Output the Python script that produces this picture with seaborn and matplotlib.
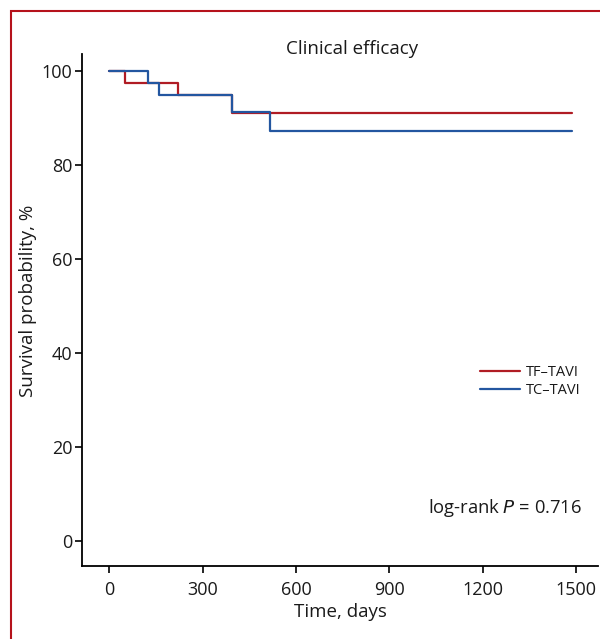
import matplotlib
matplotlib.use("Agg")
import matplotlib.pyplot as plt
import seaborn as sns
import pandas as pd
from matplotlib.patches import Rectangle
from matplotlib.lines import Line2D

# Data (Kaplan-Meier step points)
tf_time = [0, 51, 222, 395, 1485]
tf_surv = [100, 97.5, 94.9, 91.0, 91.0]
tc_time = [0, 124, 160, 395, 517, 1485]
tc_surv = [100, 97.5, 94.9, 91.3, 87.3, 87.3]
groups = ["TF\u2013TAVI", "TC\u2013TAVI"]
x_ticks = [0, 300, 600, 900, 1200, 1500]
y_ticks = [0, 20, 40, 60, 80, 100]

df = pd.concat([
    pd.DataFrame({"time": tf_time, "surv": tf_surv, "group": groups[0]}),
    pd.DataFrame({"time": tc_time, "surv": tc_surv, "group": groups[1]}),
], ignore_index=True)

sns.set_theme(style="white")
plt.rcParams["font.family"] = ["Open Sans", "DejaVu Sans"]

fig = plt.figure(figsize=(6.0, 6.39), dpi=100)
ax = fig.add_axes([0.1367, 0.1142, 0.86, 0.8013])

palette = {groups[0]: "#b01c24", groups[1]: "#2356a0"}
sns.lineplot(data=df, x="time", y="surv", hue="group", palette=palette,
             drawstyle="steps-post", linewidth=1.6, ax=ax, legend=False,
             estimator=None, sort=False)

ax.set_xlim(-87, 1570)
ax.set_ylim(-5.4, 103.6)
ax.set_xticks(x_ticks)
ax.set_yticks(y_ticks)
ax.tick_params(axis="both", which="major", direction="out", length=5, width=1.2,
               color="black", labelsize=13, labelcolor="#1a1a1a",
               bottom=True, left=True)
ax.tick_params(axis="x", pad=6)
ax.tick_params(axis="y", pad=2)
for s in ["top", "right"]:
    ax.spines[s].set_visible(False)
for s in ["left", "bottom"]:
    ax.spines[s].set_color("black")
    ax.spines[s].set_linewidth(1.3)

ax.set_xlabel("Time, days", fontsize=13.5, color="#1a1a1a", labelpad=2.5)
ax.set_ylabel("Survival probability, %", fontsize=13.5, color="#1a1a1a")
ax.yaxis.set_label_coords(-0.087, 0.517)

handles = [Line2D([0], [0], color=palette[g], lw=1.6) for g in groups]
leg = ax.legend(handles, groups, loc="center left", bbox_to_anchor=(0.745, 0.36),
                frameon=False, fontsize=10.5, handlelength=2.8, handletextpad=0.35,
                labelspacing=0.2)
for t in leg.get_texts():
    t.set_color("#1a1a1a")

ax.text(0.97, 0.113, "log-rank $\\it{P}$ = 0.716", transform=ax.transAxes,
        ha="right", va="center", fontsize=13.2, color="#1a1a1a")

fig.text(0.587, 0.923, "Clinical efficacy", ha="center", va="center",
         fontsize=13.5, color="#1a1a1a")

# red frame (top and left visible)
fig.patches.append(Rectangle((0.0178, -0.05), 1.2, 1.0333, transform=fig.transFigure,
                             fill=False, edgecolor="#b5121b", linewidth=1.5))

fig.savefig("out.png", dpi=100)
